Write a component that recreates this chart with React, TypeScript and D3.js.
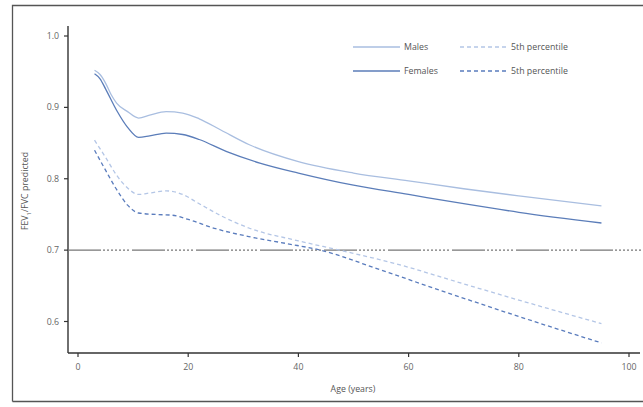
import React, { useEffect, useRef } from 'react';
import * as d3 from 'd3';

// age, FEV1/FVC predicted
const malesMean: [number, number][] = [
  [3, 0.952], [4, 0.946], [5, 0.934], [6, 0.918], [7, 0.906], [9, 0.894], [11, 0.885],
  [13, 0.889], [16, 0.894], [19, 0.892], [22, 0.884], [26, 0.868], [31, 0.848],
  [40, 0.824], [50, 0.808], [60, 0.797], [70, 0.786], [80, 0.776], [95, 0.762],
];
const femalesMean: [number, number][] = [
  [3, 0.947], [4, 0.940], [5, 0.926], [7, 0.896], [9, 0.872], [11, 0.858], [13, 0.860],
  [16, 0.864], [19, 0.862], [22, 0.855], [27, 0.838], [33, 0.822], [40, 0.808],
  [50, 0.791], [60, 0.778], [70, 0.765], [80, 0.753], [95, 0.738],
];
const males5th: [number, number][] = [
  [3, 0.854], [5, 0.830], [7, 0.805], [9, 0.787], [11, 0.778], [13, 0.780], [16, 0.783],
  [19, 0.778], [22, 0.765], [26, 0.748], [31, 0.731], [40, 0.713], [48, 0.699],
  [60, 0.676], [66, 0.662], [80, 0.630], [95, 0.597],
];
const females5th: [number, number][] = [
  [3, 0.840], [5, 0.812], [7, 0.785], [9, 0.763], [11, 0.752], [14, 0.750], [17, 0.749],
  [20, 0.743], [25, 0.730], [31, 0.719], [38, 0.709], [44, 0.700], [55, 0.672],
  [66, 0.643], [80, 0.607], [95, 0.570],
];

const xTicks = [0, 20, 40, 60, 80, 100];
const yTicks = [0.6, 0.7, 0.8, 0.9, 1.0];
const cutoff = 0.7;

const series = [
  { name: 'Males', data: malesMean, color: '#a9bee0', dash: null },
  { name: 'Females', data: femalesMean, color: '#5b7db9', dash: null },
  { name: '5th percentile', data: males5th, color: '#b4c6e6', dash: '4,3' },
  { name: '5th percentile', data: females5th, color: '#5a7cbd', dash: '4,3' },
];

export default function App() {
  const ref = useRef<SVGSVGElement>(null);

  useEffect(() => {
    const svg = d3.select(ref.current);
    svg.selectAll('*').remove();

    const x = d3.scaleLinear().domain([0, 100]).range([78, 629]);
    const y = d3.scaleLinear().domain([0.6, 1.0]).range([321.5, 36]);
    const font = '"Open Sans", "Liberation Sans", sans-serif';

    // frame
    svg.append('path')
      .attr('d', 'M12.5,401.5 L12.5,5.5 L643,5.5 M12.5,401.5 L643,401.5')
      .attr('fill', 'none').attr('stroke', '#555').attr('stroke-width', 1.3);

    // axes
    const yAxis = svg.append('g').attr('transform', 'translate(68,0)');
    yAxis.append('line').attr('x1', 0).attr('x2', 0).attr('y1', 26).attr('y2', 353)
      .attr('stroke', '#333').attr('stroke-width', 1.4);
    yTicks.forEach(t => {
      yAxis.append('line').attr('x1', -4).attr('x2', 0).attr('y1', y(t)).attr('y2', y(t))
        .attr('stroke', '#333').attr('stroke-width', 1.2);
      yAxis.append('text').attr('x', -9).attr('y', y(t)).attr('dy', '0.35em')
        .attr('text-anchor', 'end').attr('font-size', 8.8).attr('font-family', font)
        .attr('fill', '#666').text(t.toFixed(1));
    });

    const xAxis = svg.append('g').attr('transform', 'translate(0,353)');
    xAxis.append('line').attr('x1', 68).attr('x2', 640).attr('y1', 0).attr('y2', 0)
      .attr('stroke', '#333').attr('stroke-width', 1.4);
    xTicks.forEach(t => {
      xAxis.append('line').attr('x1', x(t)).attr('x2', x(t)).attr('y1', 0).attr('y2', 4)
        .attr('stroke', '#333').attr('stroke-width', 1.2);
      xAxis.append('text').attr('x', x(t)).attr('y', 17)
        .attr('text-anchor', 'middle').attr('font-size', 8.8).attr('font-family', font)
        .attr('fill', '#666').text(t);
    });

    svg.append('text').attr('x', 353).attr('y', 392).attr('text-anchor', 'middle')
      .attr('font-size', 8.8).attr('font-family', font).attr('fill', '#555').text('Age (years)');

    const yl = svg.append('text').attr('transform', 'translate(28,191) rotate(-90)')
      .attr('text-anchor', 'middle').attr('font-size', 8.8).attr('font-family', font)
      .attr('fill', '#555');
    yl.append('tspan').text('FEV');
    yl.append('tspan').attr('font-size', 6).attr('dy', 2.5).text('1');
    yl.append('tspan').attr('dy', -2.5).text('/FVC predicted');

    // 0.7 cut-off
    svg.append('line').attr('x1', 68).attr('x2', 643).attr('y1', y(cutoff)).attr('y2', y(cutoff))
      .attr('stroke', '#777').attr('stroke-width', 1.2)
      .attr('stroke-dasharray', '33,2,2,2,2,2,2,2,2,2,2,2,2,2,2,3');

    const line = d3.line<[number, number]>()
      .x(d => x(d[0])).y(d => y(d[1]))
      .curve(d3.curveMonotoneX);

    series.forEach(s => {
      const p = svg.append('path').datum(s.data)
        .attr('fill', 'none').attr('stroke', s.color).attr('stroke-width', 1.3)
        .attr('d', line);
      if (s.dash) p.attr('stroke-dasharray', s.dash);
    });

    // legend
    const legend = [
      { s: series[0], x: 353, y: 47 },
      { s: series[1], x: 353, y: 71 },
      { s: series[2], x: 460, y: 47 },
      { s: series[3], x: 460, y: 71 },
    ];
    legend.forEach(l => {
      const ln = svg.append('line').attr('x1', l.x).attr('x2', l.x + 47)
        .attr('y1', l.y).attr('y2', l.y)
        .attr('stroke', l.s.color).attr('stroke-width', 1.3);
      if (l.s.dash) ln.attr('stroke-dasharray', l.s.dash);
      svg.append('text').attr('x', l.x + 51).attr('y', l.y).attr('dy', '0.35em')
        .attr('font-size', 8.8).attr('font-family', font).attr('fill', '#555')
        .text(l.s.name);
    });
  }, []);

  return (
    <svg ref={ref} width={643} height={407}
      style={{ position: 'absolute', left: 0, top: 0, background: '#fff' }} />
  );
}
